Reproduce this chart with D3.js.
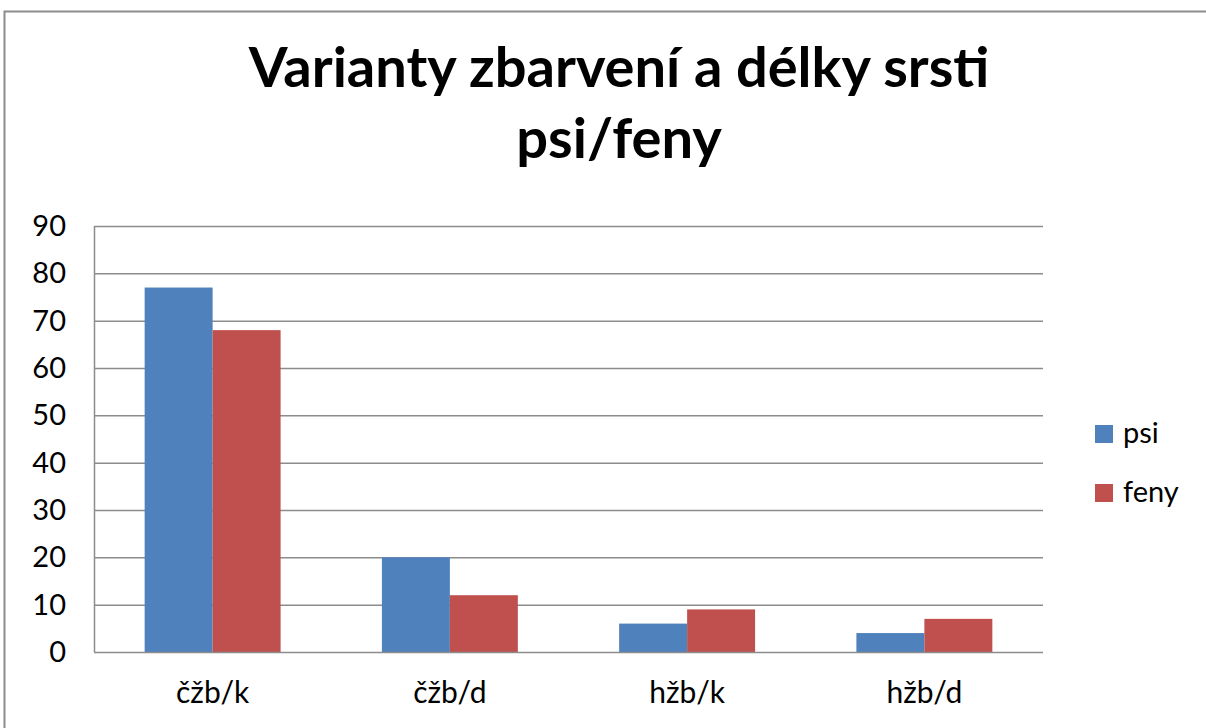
<!DOCTYPE html>
<html>
<head>
<meta charset="utf-8">
<script src="https://cdn.jsdelivr.net/npm/d3@7"></script>
<style>
  body { margin: 0; background: #fff; }
  text { font-family: Lato, "Open Sans", sans-serif; fill: #000; }
</style>
</head>
<body>
<svg id="chart" width="1206" height="728"></svg>
<script>
// data
var categories = ["čžb/k", "čžb/d", "hžb/k", "hžb/d"];
var seriesNames = ["psi", "feny"];
var psi = [77, 20, 6, 4];
var feny = [68, 12, 9, 7];
var yTicks = [0, 10, 20, 30, 40, 50, 60, 70, 80, 90];
var colors = ["#4f81bd", "#c0504d"];

var svg = d3.select("#chart");

// outer frame (right and bottom edges fall outside the picture)
svg.append("rect")
    .attr("x", 4.5).attr("y", 11.5)
    .attr("width", 1220).attr("height", 730)
    .attr("fill", "none")
    .attr("stroke", "#8c8c8c")
    .attr("stroke-width", 2);

// title
svg.append("text")
    .attr("x", 619).attr("y", 87)
    .attr("text-anchor", "middle")
    .style("font-size", "56px").style("font-weight", "bold")
    .text("Varianty zbarvení a délky srsti");
svg.append("text")
    .attr("x", 619).attr("y", 158)
    .attr("text-anchor", "middle")
    .style("font-size", "56px").style("font-weight", "bold")
    .text("psi/feny");

var plotLeft = 94, plotRight = 1043, plotTop = 226, plotBottom = 652;

var x = d3.scaleBand().domain(categories).range([plotLeft, plotRight]).paddingInner(0.427).paddingOuter(0.2135);
var y = d3.scaleLinear().domain([0, 90]).range([plotBottom, plotTop]);

// grid lines
svg.append("g").selectAll("line")
    .data(yTicks.filter(d => d > 0))
    .join("line")
    .attr("x1", plotLeft).attr("x2", plotRight)
    .attr("y1", d => y(d) + 0.5).attr("y2", d => y(d) + 0.5)
    .attr("stroke", "#8c8c8c").attr("stroke-width", 1.5);

// y axis line
svg.append("line")
    .attr("x1", plotLeft + 0.5).attr("x2", plotLeft + 0.5)
    .attr("y1", plotTop).attr("y2", plotBottom)
    .attr("stroke", "#8c8c8c").attr("stroke-width", 1.5);

// y tick labels
svg.append("g").selectAll("text")
    .data(yTicks)
    .join("text")
    .attr("x", 66).attr("y", d => y(d) + 10)
    .attr("text-anchor", "end")
    .style("font-size", "29px")
    .text(d => d);

var inner = d3.scaleBand().domain(seriesNames).range([0, x.bandwidth()]);
var series = [psi, feny];

series.forEach(function (vals, si) {
    svg.append("g").selectAll("rect")
        .data(vals)
        .join("rect")
        .attr("x", (d, i) => x(categories[i]) + inner(seriesNames[si]))
        .attr("y", d => y(d))
        .attr("width", inner.bandwidth())
        .attr("height", d => y(0) - y(d))
        .attr("fill", colors[si]);
});

// x axis line
svg.append("line")
    .attr("x1", plotLeft).attr("x2", plotRight)
    .attr("y1", plotBottom + 0.5).attr("y2", plotBottom + 0.5)
    .attr("stroke", "#8c8c8c").attr("stroke-width", 1.5);

// category labels
svg.append("g").selectAll("text")
    .data(categories)
    .join("text")
    .attr("x", d => x(d) + x.bandwidth() / 2)
    .attr("y", 703)
    .attr("text-anchor", "middle")
    .style("font-size", "30px")
    .text(d => d);

// legend
var legend = svg.append("g").selectAll("g")
    .data(seriesNames)
    .join("g")
    .attr("transform", (d, i) => "translate(1095," + (425 + i * 59) + ")");
legend.append("rect")
    .attr("width", 18).attr("height", 18)
    .attr("fill", (d, i) => colors[i]);
legend.append("text")
    .attr("x", 28).attr("y", 18)
    .style("font-size", "29px")
    .text(d => d);
</script>
</body>
</html>
